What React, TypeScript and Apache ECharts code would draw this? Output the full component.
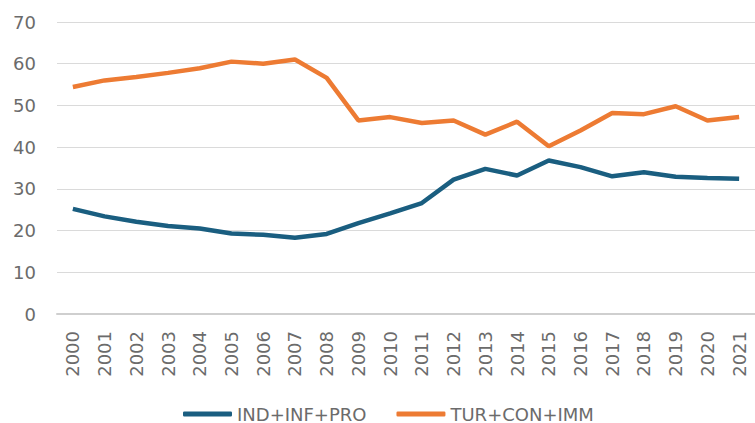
import React, { useEffect, useRef } from "react";
import * as echarts from "echarts";

const years = [
  "2000", "2001", "2002", "2003", "2004", "2005", "2006", "2007", "2008", "2009", "2010",
  "2011", "2012", "2013", "2014", "2015", "2016", "2017", "2018", "2019", "2020", "2021",
];
const indInfPro = [
  25.2, 23.4, 22.1, 21.1, 20.5, 19.3, 19.0, 18.3, 19.2, 21.8, 24.1,
  26.6, 32.2, 34.8, 33.2, 36.8, 35.2, 33.0, 34.0, 32.9, 32.6, 32.4,
];
const turConImm = [
  54.4, 56.0, 56.8, 57.8, 58.9, 60.5, 60.0, 61.0, 56.6, 46.4, 47.2,
  45.8, 46.4, 43.0, 46.1, 40.2, 44.0, 48.2, 47.9, 49.8, 46.4, 47.2,
];
const seriesNames = ["IND+INF+PRO", "TUR+CON+IMM"];
const yTicks = [0, 10, 20, 30, 40, 50, 60, 70];

const BLUE = "#1a5e80";
const ORANGE = "#ed7b33";
const FONT = "DejaVu Sans";

export default function App() {
  const ref = useRef<HTMLDivElement>(null);
  useEffect(() => {
    document.body.style.margin = "0";
    const chart = echarts.init(ref.current!, null, { renderer: "svg" });
    chart.setOption({
      animation: false,
      grid: { left: 57, top: 22, width: 705, height: 292, containLabel: false },
      legend: {
        left: 183,
        top: 404,
        padding: 0,
        itemWidth: 49,
        itemHeight: 5,
        itemGap: 30,
        icon: "roundRect",
        textStyle: { fontFamily: FONT, fontSize: 18, color: "#6b6b6b", lineHeight: 20 },
        data: seriesNames,
      },
      xAxis: {
        type: "category",
        data: years,
        boundaryGap: true,
        axisLine: { show: true, lineStyle: { color: "#cfcfcf", width: 2 } },
        axisTick: { show: false },
        axisLabel: {
          rotate: 90,
          margin: 17,
          interval: 0,
          fontFamily: FONT,
          fontSize: 18,
          color: "#6b6b6b",
        },
        splitLine: { show: false },
      },
      yAxis: {
        type: "value",
        min: yTicks[0],
        max: yTicks[yTicks.length - 1],
        interval: 10,
        axisLine: { show: false },
        axisTick: { show: false },
        axisLabel: { margin: 21, fontFamily: FONT, fontSize: 18, color: "#6b6b6b" },
        splitLine: { show: true, lineStyle: { color: "#dadada", width: 1 } },
      },
      series: [
        {
          name: seriesNames[0],
          type: "line",
          data: indInfPro,
          symbol: "none",
          lineStyle: { color: BLUE, width: 4.5 },
          itemStyle: { color: BLUE },
        },
        {
          name: seriesNames[1],
          type: "line",
          data: turConImm,
          symbol: "none",
          lineStyle: { color: ORANGE, width: 4.5 },
          itemStyle: { color: ORANGE },
        },
      ],
    });
    return () => chart.dispose();
  }, []);
  return <div ref={ref} style={{ width: 755, height: 423 }} />;
}
